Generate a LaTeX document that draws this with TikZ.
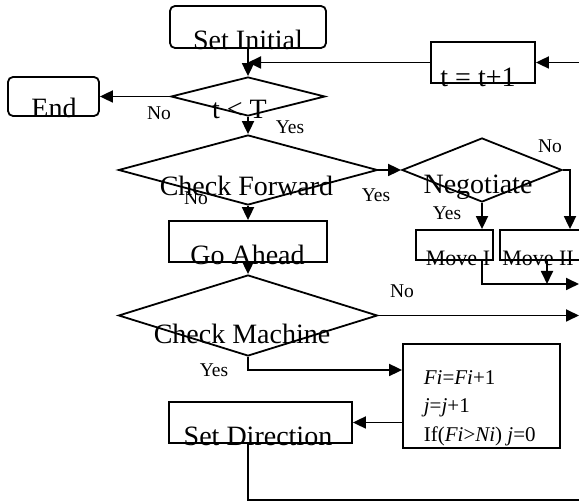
\documentclass[tikz,border=0pt]{standalone}
\usepackage{fontspec}
\setmainfont{Liberation Serif}
\usetikzlibrary{arrows.meta,shapes.geometric}

\def\colx{248}

\begin{document}
\begin{tikzpicture}[x=1pt,y=-1pt,
    line width=1.8pt,
    arrowtip/.style={
      -{Triangle[length=13pt,width=12pt]}
    },
    boxnode/.style={draw, rectangle, inner sep=0pt},
    roundbox/.style={boxnode, rounded corners=5pt},
    decision/.style={draw, diamond, inner sep=0pt},
    bigtext/.style={font=\fontsize{28}{30}\selectfont, anchor=base, inner sep=0pt},
    midtext/.style={font=\fontsize{22}{24}\selectfont, anchor=base, inner sep=0pt},
    anstext/.style={font=\fontsize{19.5}{21}\selectfont, anchor=base, inner sep=0pt},
    calctext/.style={font=\fontsize{21}{23}\selectfont, anchor=base west, inner sep=0pt}
  ]
    \useasboundingbox (0,0) rectangle (579,502);

    % shapes of the chart
    \node[roundbox, minimum width=156pt, minimum height=42pt] (init) at (\colx,27) {};
    \node[roundbox, minimum width=91pt, minimum height=39pt] (stop) at (53.5,96.5) {};
    \node[decision, minimum width=154pt, minimum height=39pt] (cond) at (\colx,96.5) {};
    \node[boxnode, minimum width=104pt, minimum height=41pt] (tinc) at (483,62.5) {};
    \node[decision, minimum width=259pt, minimum height=70pt] (fwd) at (\colx,170) {};
    \node[decision, minimum width=160pt, minimum height=64pt] (nego) at (482,170) {};
    \node[boxnode, minimum width=77pt, minimum height=30pt] (moveA) at (454.5,245) {};
    \node[boxnode, minimum width=140pt, minimum height=30pt] (moveB) at (570,245) {};
    \node[boxnode, minimum width=158pt, minimum height=41pt] (ahead) at (\colx,241.5) {};
    \node[decision, minimum width=259pt, minimum height=81pt] (mach) at (\colx,315.5) {};
    \node[boxnode, minimum width=157pt, minimum height=104pt] (calc) at (481.5,396) {};
    \node[boxnode, minimum width=183pt, minimum height=41pt] (setdir) at (260.5,422.5) {};

    % loose ends on the right
    \coordinate (loopin) at (579,62.5);
    \coordinate (outA) at (579,284);
    \coordinate (outB) at (579,315.5);
    \coordinate (outC) at (579,500);

    % connectors
    \draw[arrowtip] (init.south) -- (cond.north);
    \draw[arrowtip] (loopin) -- (tinc.east);
    \draw[arrowtip] (tinc.west) -- (tinc.west -| init.south);
    \draw[arrowtip] (cond.west) -- (stop.east);
    \draw[arrowtip] (cond.south) -- (fwd.north);
    \draw[arrowtip] (fwd.east) -- (nego.west);
    \draw[arrowtip] (fwd.south) -- (ahead.north);
    \draw[arrowtip] (ahead.south) -- (mach.north);
    \draw[arrowtip] (nego.south) -- (nego.south |- moveA.north);
    \draw[arrowtip] (nego.east) -| (moveB.north);
    \draw[arrowtip] (nego.south |- moveA.south) |- (outA);
    \draw[arrowtip] ([xshift=-23pt]moveB.south) -- ([xshift=-23pt]moveB.south |- outA);
    \draw[arrowtip] (mach.east) -- (outB);
    \draw[arrowtip] (mach.south) |- ([yshift=26pt]calc.west);
    \draw[arrowtip] (calc.west |- setdir.east) -- (setdir.east);
    \draw (setdir.south -| mach.south) |- (outC);

    % texts, set low in their shapes
    \foreach \x / \y / \txt [count=\i] in {
      248/50/Set Initial, 54/118/End, 239.5/119/{t < T}, 478/87/{t = t+1},
      246.5/196/Check Forward, 478/194/Negotiate, 247.5/265/Go Ahead,
      242/344/Check Machine, 258/446/Set Direction} {
      \node[bigtext] (name\i) at (\x,\y) {\txt};
    }
    \node[midtext] (moveAtxt) at (458,266) {Move I};
    \node[midtext] (moveBtxt) at (538,266) {Move II};

    \foreach \x / \y / \ans [count=\i] in {
      159/120/No, 290/134/Yes, 376/202/Yes, 196/205/No,
      550/153/No, 447/220/Yes, 402/298/No, 214/377/Yes} {
      \node[anstext] (ans\i) at (\x,\y) {\ans};
    }

    \foreach \y / \txt [count=\i] in {
      385/{\textit{Fi}=\textit{Fi}+1},
      413/{\textit{j}=\textit{j}+1},
      442/{If(\textit{Fi}>\textit{Ni}) \textit{j}=0}} {
      \node[calctext] (rule\i) at (423,\y) {\txt};
    }
  \end{tikzpicture}
\end{document}
